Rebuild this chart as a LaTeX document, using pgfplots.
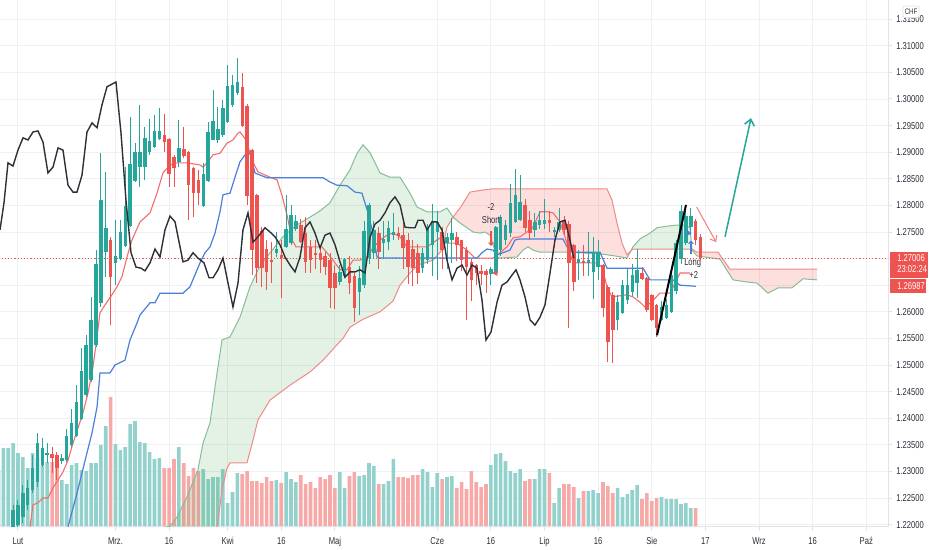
\documentclass[border=0pt]{standalone}
\usepackage{fontspec}
\setmainfont{Liberation Sans}[FakeStretch=0.76]
\usepackage{pgfplots}
\usepackage{pgfplotstable}
\pgfplotsset{compat=1.18}
\usetikzlibrary{arrows.meta}
\definecolor{up}{HTML}{26A69A}
\definecolor{dn}{HTML}{EF5350}
\definecolor{vup}{HTML}{93D2CC}
\definecolor{vdn}{HTML}{F7A9A7}
\definecolor{conv}{HTML}{F26D6D}
\definecolor{base}{HTML}{4A7FDB}
\definecolor{lag}{HTML}{2E3038}
\definecolor{spanA}{HTML}{84BE97}
\definecolor{spanB}{HTML}{F08A88}
\definecolor{cloudG}{HTML}{43A047}
\definecolor{cloudR}{HTML}{F44336}
\definecolor{gridc}{HTML}{EEF0F4}
\definecolor{linec}{HTML}{E0E3EB}
\definecolor{txt}{HTML}{2A2E39}
\newcommand{\tf}{\fontsize{5}{6}\selectfont}

% ---------- candles: i O H L C ----------
\pgfplotstableread{
i O H L C
-1 1.2196 1.2237 1.2194 1.2228
0 1.2200 1.2246 1.2196 1.2237
1 1.2214 1.2274 1.2203 1.2259
2 1.2236 1.2284 1.2228 1.2269
3 1.2265 1.2331 1.2259 1.2306
4 1.2280 1.2372 1.2271 1.2353
5 1.2312 1.2363 1.2308 1.2344
6 1.2331 1.2353 1.2316 1.2334
9 1.2320 1.2332 1.2314 1.2326
10 1.2321 1.2380 1.2318 1.2366
11 1.2350 1.2417 1.2346 1.2391
12 1.2366 1.2462 1.2365 1.2430
13 1.2398 1.2532 1.2397 1.2489
14 1.2444 1.2556 1.2440 1.2538
15 1.2472 1.2628 1.2468 1.2585
16 1.2538 1.2716 1.2534 1.2690
17 1.2617 1.2898 1.2609 1.2810
18 1.2712 1.2863 1.2666 1.2757
20 1.2692 1.2773 1.2650 1.2705
21 1.2699 1.2773 1.2697 1.2750
22 1.2724 1.2872 1.2722 1.2799
23 1.2761 1.2966 1.2759 1.2878
24 1.2846 1.2918 1.2844 1.2901
25 1.2872 1.2989 1.2835 1.2900
26 1.2872 1.2947 1.2847 1.2927
27 1.2901 1.2962 1.2895 1.2921
28 1.2910 1.2970 1.2908 1.2940
29 1.2925 1.2983 1.2923 1.2940
33 1.2882 1.2961 1.2872 1.2908
38 1.2799 1.2880 1.2797 1.2859
39 1.2846 1.2957 1.2844 1.2938
40 1.2923 1.3017 1.2923 1.2959
41 1.2923 1.2985 1.2917 1.2944
42 1.2932 1.2998 1.2929 1.2983
43 1.2957 1.3064 1.2955 1.3024
44 1.2989 1.3045 1.2985 1.3026
45 1.3011 1.3077 1.3008 1.3032
53 1.2711 1.2750 1.2703 1.2718
55 1.2722 1.2820 1.2720 1.2756
56 1.2729 1.2801 1.2726 1.2782
57 1.2756 1.2782 1.2752 1.2771
66 1.2656 1.2688 1.2650 1.2675
67 1.2667 1.2702 1.2664 1.2699
70 1.2637 1.2686 1.2594 1.2664
71 1.2650 1.2770 1.2644 1.2752
72 1.2702 1.2805 1.2690 1.2801
73 1.2711 1.2770 1.2700 1.2754
75 1.2729 1.2770 1.2700 1.2737
76 1.2731 1.2770 1.2716 1.2757
77 1.2744 1.2785 1.2735 1.2750
83 1.2683 1.2720 1.2672 1.2710
84 1.2698 1.2765 1.2690 1.2757
85 1.2726 1.2802 1.2668 1.2771
86 1.2750 1.2790 1.2660 1.2769
88 1.2729 1.2748 1.2680 1.2741
89 1.2735 1.2777 1.2692 1.2748
97 1.2671 1.2685 1.2650 1.2680
98 1.2673 1.2762 1.2670 1.2759
99 1.2716 1.2782 1.2705 1.2778
100 1.2735 1.2773 1.2725 1.2763
101 1.2748 1.2840 1.2740 1.2805
102 1.2769 1.2868 1.2767 1.2820
103 1.2773 1.2857 1.2770 1.2806
106 1.2754 1.2786 1.2740 1.2769
107 1.2763 1.2790 1.2755 1.2773
108 1.2765 1.2812 1.2755 1.2773
110 1.2750 1.2760 1.2740 1.2754
111 1.2754 1.2795 1.2750 1.2769
115 1.2692 1.2717 1.2660 1.2699
117 1.2692 1.2750 1.2667 1.2697
118 1.2675 1.2741 1.2624 1.2712
119 1.2684 1.2735 1.2660 1.2712
123 1.2584 1.2632 1.2565 1.2618
124 1.2598 1.2660 1.2596 1.2650
125 1.2622 1.2680 1.2615 1.2650
126 1.2637 1.2690 1.2630 1.2669
127 1.2654 1.2718 1.2626 1.2679
132 1.2585 1.2620 1.2583 1.2609
133 1.2588 1.2625 1.2587 1.2613
134 1.2600 1.2680 1.2598 1.2669
135 1.2640 1.2735 1.2633 1.2730
136 1.2700 1.2800 1.2690 1.2790
137 1.2730 1.2790 1.2725 1.2780
138 1.2760 1.2795 1.2745 1.2780
}\upc

\pgfplotstableread{
i O H L C
7 1.2333 1.2346 1.2297 1.2325
8 1.2330 1.2336 1.2284 1.2306
19 1.2735 1.2740 1.2575 1.2666
30 1.2933 1.2972 1.2901 1.2920
31 1.2925 1.2927 1.2835 1.2859
32 1.2891 1.2895 1.2835 1.2870
34 1.2906 1.2947 1.2889 1.2893
35 1.2901 1.2903 1.2773 1.2838
36 1.2870 1.2872 1.2778 1.2823
37 1.2848 1.2866 1.2800 1.2823
46 1.3023 1.3049 1.2947 1.2949
47 1.2987 1.2990 1.2800 1.2818
48 1.2904 1.2906 1.2670 1.2716
49 1.2820 1.2822 1.2655 1.2682
50 1.2752 1.2759 1.2647 1.2682
51 1.2718 1.2735 1.2641 1.2675
52 1.2698 1.2731 1.2654 1.2694
54 1.2707 1.2735 1.2626 1.2701
58 1.2763 1.2775 1.2729 1.2731
59 1.2748 1.2778 1.2673 1.2694
60 1.2722 1.2735 1.2673 1.2698
61 1.2710 1.2735 1.2680 1.2707
62 1.2710 1.2722 1.2673 1.2698
63 1.2705 1.2712 1.2669 1.2684
64 1.2698 1.2711 1.2607 1.2645
65 1.2673 1.2688 1.2605 1.2645
68 1.2684 1.2705 1.2633 1.2654
69 1.2667 1.2673 1.2581 1.2607
74 1.2748 1.2760 1.2680 1.2712
78 1.2748 1.2760 1.2735 1.2743
79 1.2744 1.2774 1.2680 1.2720
80 1.2735 1.2749 1.2652 1.2684
81 1.2718 1.2735 1.2648 1.2683
82 1.2710 1.2728 1.2652 1.2673
87 1.2750 1.2760 1.2680 1.2716
90 1.2741 1.2750 1.2695 1.2726
91 1.2735 1.2735 1.2677 1.2698
92 1.2716 1.2722 1.2585 1.2684
93 1.2694 1.2700 1.2620 1.2660
94 1.2688 1.2690 1.2650 1.2673
95 1.2677 1.2688 1.2650 1.2671
96 1.2677 1.2680 1.2635 1.2669
104 1.2801 1.2812 1.2750 1.2758
105 1.2773 1.2790 1.2735 1.2748
109 1.2773 1.2790 1.2750 1.2766
112 1.2773 1.2780 1.2745 1.2754
113 1.2765 1.2770 1.2570 1.2692
114 1.2726 1.2728 1.2640 1.2656
116 1.2696 1.2725 1.2667 1.2692
120 1.2688 1.2690 1.2590 1.2607
121 1.2647 1.2650 1.2506 1.2543
122 1.2632 1.2637 1.2503 1.2566
128 1.2673 1.2685 1.2660 1.2662
129 1.2664 1.2666 1.2600 1.2604
130 1.2632 1.2634 1.2583 1.2585
131 1.2613 1.2615 1.2553 1.2570
139 1.2770 1.2775 1.2725 1.2735
140 1.2741 1.2746 1.2697 1.27006
}\dnc

% ---------- volume ----------
\pgfplotstableread{
i v
-4 57
-3 79
-2 79
-1 84
0 74
1 70
2 59
3 74
4 69
5 62
6 65
9 47
10 43
11 62
12 64
13 57
14 56
15 64
16 64
17 82
18 101
20 83
21 77
22 80
23 103
24 106
25 85
26 84
27 75
28 68
29 69
33 80
38 58
39 48
40 50
41 50
42 58
43 24
44 35
45 54
53 47
55 55
56 48
57 45
66 55
67 39
70 51
71 52
72 64
73 61
75 43
76 46
77 68
83 58
84 55
85 40
86 54
88 50
89 51
97 62
98 73
99 74
100 66
101 56
102 54
103 58
106 48
107 58
108 58
110 24
111 39
115 29
117 36
118 37
119 34
123 39
124 30
125 33
126 37
127 42
132 30
133 28
134 28
135 28
136 23
137 24
138 19
}\vupt

\pgfplotstableread{
i v
7 65
8 67
19 130
30 59
31 59
32 68
34 64
35 51
36 59
37 56
46 53
47 56
48 46
49 46
50 44
51 50
52 46
54 44
58 52
59 43
60 45
61 39
62 50
63 48
64 52
65 39
68 51
69 55
74 43
78 50
79 50
80 49
81 52
82 52
87 48
90 39
91 45
92 38
93 56
94 45
95 40
96 43
104 46
105 48
109 54
112 43
113 43
114 40
116 36
120 45
121 41
122 34
128 28
129 34
130 26
131 29
139 19
140 1
}\vdnt

% ---------- ichimoku ----------
\pgfplotstableread{
x y
2.46 1.2196
3.08 1.2237
4.10 1.2241
5.13 1.2250
6.15 1.2250
7.18 1.2269
8.21 1.2284
9.23 1.2299
10.26 1.2321
11.28 1.2353
12.31 1.2382
13.33 1.2410
14.36 1.2447
15.38 1.2496
16.21 1.2553
16.82 1.2598
17.85 1.2613
19.28 1.2632
20.31 1.2647
21.33 1.2666
22.36 1.2703
23.38 1.2735
25.03 1.2769
27.08 1.2786
28.51 1.2823
29.74 1.2861
31.18 1.2876
32.62 1.2880
34.67 1.2880
37.33 1.2876
37.95 1.2872
38.97 1.2882
40.00 1.2895
41.44 1.2898
42.87 1.2917
44.10 1.2923
45.13 1.2936
45.54 1.2938
46.77 1.2923
48.00 1.2885
49.23 1.2863
51.69 1.2853
53.13 1.2848
54.15 1.2819
55.18 1.2782
56.21 1.2735
57.03 1.2722
62.36 1.2722
63.38 1.2711
64.62 1.2697
66.05 1.2679
67.49 1.2679
68.72 1.2697
70.15 1.2697
71.59 1.2703
72.82 1.2720
74.26 1.2735
75.69 1.2744
76.92 1.2748
78.36 1.2741
79.79 1.2722
83.90 1.2722
85.95 1.2735
86.97 1.2741
87.59 1.2729
90.05 1.2729
92.10 1.2716
93.74 1.2701
97.44 1.2701
98.87 1.2711
100.31 1.2722
101.54 1.2739
102.97 1.2741
104.41 1.2750
105.64 1.2759
107.08 1.2788
108.51 1.2788
109.74 1.2786
111.18 1.2769
112.62 1.2729
113.85 1.2692
118.77 1.2692
119.79 1.2684
120.82 1.2647
121.85 1.2628
124.92 1.2632
126.15 1.2628
127.59 1.2618
128.62 1.2609
129.64 1.2616
131.69 1.2635
133.74 1.2635
134.77 1.2654
135.80 1.2673
137.85 1.2673
}\conv

\pgfplotstableread{
x y
10.26 1.2196
12.10 1.2259
14.15 1.2335
15.18 1.2372
16.21 1.2421
16.82 1.2485
18.87 1.2485
19.90 1.2500
21.95 1.2509
22.97 1.2547
24.41 1.2579
25.03 1.2594
27.08 1.2617
28.10 1.2617
29.13 1.2635
33.85 1.2635
35.28 1.2647
37.33 1.2692
38.36 1.2711
39.38 1.2722
40.41 1.2748
41.44 1.2788
42.05 1.2820
43.49 1.2823
44.51 1.2853
45.54 1.2882
46.56 1.2895
47.59 1.2898
48.62 1.2861
49.64 1.2857
51.08 1.2852
62.57 1.2852
64.00 1.2844
65.44 1.2838
67.49 1.2837
69.13 1.2825
70.56 1.2823
71.79 1.2786
72.82 1.2748
73.64 1.2703
74.26 1.2701
94.15 1.2701
95.18 1.2711
96.21 1.2718
97.44 1.2716
98.26 1.2707
100.92 1.2716
101.95 1.2735
102.97 1.2737
111.79 1.2737
112.62 1.2722
113.85 1.2712
119.38 1.2712
120.82 1.2682
128.21 1.2682
129.64 1.2660
134.36 1.2660
135.80 1.2650
139.08 1.2648
}\base

\pgfplotstableread{
x y
-3.69 1.2754
-2.87 1.2805
-2.05 1.2880
-1.03 1.2874
0.00 1.2904
1.03 1.2927
2.05 1.2923
3.08 1.2938
4.10 1.2940
5.13 1.2919
6.15 1.2861
7.18 1.2872
8.21 1.2908
9.23 1.2904
10.26 1.2838
11.28 1.2825
12.10 1.2825
13.13 1.2857
14.15 1.2938
15.18 1.2955
16.21 1.2946
17.23 1.2989
18.26 1.3023
20.10 1.3032
21.13 1.2936
22.15 1.2810
23.18 1.2711
24.21 1.2684
25.23 1.2682
26.05 1.2677
27.08 1.2692
28.10 1.2718
29.13 1.2703
30.15 1.2754
31.18 1.2780
32.21 1.2769
33.85 1.2694
34.87 1.2697
35.90 1.2711
36.92 1.2701
38.15 1.2692
39.18 1.2664
40.00 1.2664
41.03 1.2679
42.05 1.2701
43.08 1.2654
44.10 1.2609
45.13 1.2654
46.15 1.2754
47.18 1.2786
48.21 1.2731
49.23 1.2741
50.67 1.2758
51.69 1.2750
52.72 1.2741
53.74 1.2726
54.77 1.2703
55.79 1.2688
56.82 1.2675
57.85 1.2703
58.87 1.2758
59.90 1.2769
60.92 1.2748
61.95 1.2720
62.97 1.2744
64.00 1.2748
65.03 1.2726
66.05 1.2694
67.08 1.2665
68.10 1.2675
69.13 1.2675
70.15 1.2679
71.18 1.2673
72.21 1.2740
73.23 1.2765
74.26 1.2772
75.28 1.2786
76.31 1.2805
77.33 1.2816
78.36 1.2801
79.38 1.2759
80.41 1.2758
81.44 1.2758
82.05 1.2772
83.08 1.2772
83.90 1.2754
84.92 1.2769
85.95 1.2769
86.97 1.2754
88.00 1.2697
89.03 1.2660
90.05 1.2682
91.08 1.2688
92.10 1.2669
93.13 1.2688
94.15 1.2682
95.18 1.2622
96.00 1.2547
97.03 1.2562
98.26 1.2618
99.28 1.2650
100.31 1.2656
101.33 1.2669
102.15 1.2679
102.97 1.2660
104.00 1.2628
105.03 1.2585
106.05 1.2575
107.08 1.2590
108.10 1.2613
109.13 1.2673
110.15 1.2735
111.18 1.2769
112.21 1.2772
113.23 1.2735
114.00 1.2701
}\lag

\pgfplotstableread{
x y
29.54 1.2194
31.18 1.2197
32.62 1.2214
34.67 1.2252
35.90 1.2280
36.92 1.2303
37.95 1.2353
39.38 1.2391
40.62 1.2472
41.85 1.2547
43.49 1.2553
45.54 1.2590
47.59 1.2647
49.30 1.2680
51.00 1.2703
54.36 1.2741
57.00 1.2762
59.90 1.2778
62.00 1.2790
64.00 1.2805
66.05 1.2838
68.10 1.2867
69.50 1.2897
70.77 1.2914
72.21 1.2899
74.26 1.2861
76.31 1.2853
78.36 1.2853
80.41 1.2823
81.85 1.2797
83.90 1.2788
86.56 1.2788
88.00 1.2795
89.23 1.2778
90.67 1.2767
92.10 1.2758
93.33 1.2750
94.77 1.2748
95.79 1.2750
96.82 1.2744
98.26 1.2703
98.87 1.2701
102.36 1.2703
103.59 1.2716
104.62 1.2722
105.64 1.2716
107.08 1.2712
112.62 1.2712
119.38 1.2709
122.46 1.2705
124.92 1.2701
126.15 1.2722
127.59 1.2737
129.64 1.2748
131.08 1.2758
133.13 1.2761
135.18 1.2763
136.82 1.2763
137.85 1.2758
138.26 1.2716
139.28 1.2705
144.00 1.2699
146.67 1.2660
149.54 1.2656
151.59 1.2654
153.85 1.2635
155.90 1.2645
158.77 1.2645
161.03 1.2662
163.90 1.2660
}\spanA

\pgfplotstableread{
x y
29.54 1.2100
40.00 1.2150
40.82 1.2194
41.85 1.2265
42.87 1.2306
43.49 1.2316
46.97 1.2316
48.21 1.2359
49.23 1.2397
51.69 1.2434
55.79 1.2462
59.90 1.2487
62.57 1.2509
65.03 1.2534
66.67 1.2550
68.10 1.2571
70.77 1.2586
74.26 1.2600
76.92 1.2620
78.36 1.2650
80.41 1.2673
82.05 1.2688
85.13 1.2697
86.97 1.2716
88.00 1.2759
89.23 1.2778
90.67 1.2795
92.72 1.2825
95.38 1.2829
97.23 1.2831
120.82 1.2831
121.85 1.2810
122.87 1.2767
123.90 1.2729
124.92 1.2707
126.15 1.2718
138.26 1.2718
139.28 1.2712
143.59 1.2712
146.05 1.2680
163.90 1.2680
}\spanB

% cloud areas: span A forward, span B back
\pgfplotstableread{
x y
29.54 1.2194
31.18 1.2197
32.62 1.2214
34.67 1.2252
35.90 1.2280
36.92 1.2303
37.95 1.2353
39.38 1.2391
40.62 1.2472
41.85 1.2547
43.49 1.2553
45.54 1.2590
47.59 1.2647
49.30 1.2680
51.00 1.2703
54.36 1.2741
57.00 1.2762
59.90 1.2778
62.00 1.2790
64.00 1.2805
66.05 1.2838
68.10 1.2867
69.50 1.2897
70.77 1.2914
72.21 1.2899
74.26 1.2861
76.31 1.2853
78.36 1.2853
80.41 1.2823
81.85 1.2797
83.90 1.2788
86.56 1.2788
88.00 1.2795
89.23 1.2778
88.00 1.2759
86.97 1.2716
85.13 1.2697
82.05 1.2688
80.41 1.2673
78.36 1.2650
76.92 1.2620
74.26 1.2600
70.77 1.2586
68.10 1.2571
66.67 1.2550
65.03 1.2534
62.57 1.2509
59.90 1.2487
55.79 1.2462
51.69 1.2434
49.23 1.2397
48.21 1.2359
46.97 1.2316
43.49 1.2316
42.87 1.2306
41.85 1.2265
40.82 1.2194
40.00 1.2150
29.54 1.2100
}\cloudGa

\pgfplotstableread{
x y
125.50 1.2712
126.15 1.2722
127.59 1.2737
129.64 1.2748
131.08 1.2758
133.13 1.2761
135.18 1.2763
136.82 1.2763
137.85 1.2758
138.25 1.2717
126.15 1.2718
}\cloudGb

\pgfplotstableread{
x y
89.23 1.2778
90.67 1.2767
92.10 1.2758
93.33 1.2750
94.77 1.2748
95.79 1.2750
96.82 1.2744
98.26 1.2703
98.87 1.2701
102.36 1.2703
103.59 1.2716
104.62 1.2722
105.64 1.2716
107.08 1.2712
112.62 1.2712
119.38 1.2709
122.46 1.2705
124.92 1.2701
125.50 1.2712
124.92 1.2707
123.90 1.2729
122.87 1.2767
121.85 1.2810
120.82 1.2831
97.23 1.2831
95.38 1.2829
92.72 1.2825
90.67 1.2795
}\cloudRa

\pgfplotstableread{
x y
138.25 1.2717
139.28 1.2705
144.00 1.2699
146.67 1.2660
149.54 1.2656
151.59 1.2654
153.85 1.2635
155.90 1.2645
158.77 1.2645
161.03 1.2662
163.90 1.2660
163.90 1.2680
146.05 1.2680
143.59 1.2712
139.28 1.2712
}\cloudRb

\begin{document}
\begin{tikzpicture}
\fill[white] (0,0) rectangle (466pt,-275pt);

% background grid
\begin{axis}[at={(0,0)}, anchor=north west, width=444pt, height=263.5pt, scale only axis,
  xmin=-3.692, xmax=178.46, ymin=1.21955, ymax=1.31861,
  xtick={0,20,31,43,54,65,86,97,108,119,130,141,152,163,174},
  ytick={1.22,1.225,1.23,1.235,1.24,1.245,1.25,1.255,1.26,1.265,1.27,1.275,1.28,1.285,1.29,1.295,1.30,1.305,1.31,1.315},
  xticklabels={}, yticklabels={}, grid=major,
  major grid style={draw=gridc, line width=0.5pt},
  axis line style={draw=none}, tick style={draw=none}]
\addplot[draw=none] coordinates {(0,1.25) (1,1.26)};
\end{axis}

% volume
\begin{axis}[at={(0,0)}, anchor=north west, width=444pt, height=263.5pt, scale only axis,
  xmin=-3.692, xmax=178.46, ymin=0, ymax=527, hide axis]
\addplot[ybar, bar shift=0pt, bar width=1.8pt, fill=vup, draw=none] table[x=i,y=v] {\vupt};
\addplot[ybar, bar shift=0pt, bar width=1.8pt, fill=vdn, draw=none] table[x=i,y=v] {\vdnt};
\end{axis}

% price
\begin{axis}[at={(0,0)}, anchor=north west, width=444pt, height=263.5pt, scale only axis,
  xmin=-3.692, xmax=178.46, ymin=1.21955, ymax=1.31861,
  axis x line*=bottom, axis y line*=right,
  axis line style={draw=linec, line width=0.5pt, -},
  xtick={0,20,31,43,54,65,86,97,108,119,130,141,152,163,174},
  xticklabels={Lut,Mrz.,16,Kwi,16,Maj,Cze,16,Lip,16,Sie,17,Wrz,16,Paź},
  ytick={1.22,1.225,1.23,1.235,1.24,1.245,1.25,1.255,1.26,1.265,1.27,1.275,1.28,1.285,1.29,1.295,1.30,1.305,1.31,1.315},
  yticklabels={1.22000,1.22500,1.23000,1.23500,1.24000,1.24500,1.25000,1.25500,1.26000,{},{},1.27500,1.28000,1.28500,1.29000,1.29500,1.30000,1.30500,1.31000,1.31500},
  tick align=outside, major tick length=2pt,
  tick style={draw=linec, line width=0.5pt},
  x tick label style={font=\tf, text=txt, inner sep=0pt, anchor=north, yshift=-3pt},
  y tick label style={font=\tf, text=txt, inner sep=0pt, anchor=west, xshift=2pt},
  /pgf/number format/assume math mode=true,
  clip mode=individual]

% cloud
\addplot[fill=cloudG, fill opacity=0.14, draw=none] table[x=x,y=y] {\cloudGa};
\addplot[fill=cloudG, fill opacity=0.14, draw=none] table[x=x,y=y] {\cloudGb};
\addplot[fill=cloudR, fill opacity=0.17, draw=none] table[x=x,y=y] {\cloudRa};
\addplot[fill=cloudR, fill opacity=0.17, draw=none] table[x=x,y=y] {\cloudRb};
\addplot[spanA, line width=0.5pt] table[x=x,y=y] {\spanA};
\addplot[spanB, line width=0.5pt] table[x=x,y=y] {\spanB};

% price line
\addplot[dn, line width=0.5pt, dash pattern=on 0.6pt off 1pt] coordinates {(-4,1.27006) (179,1.27006)};

% conversion & base lines
\addplot[conv, line width=0.55pt] table[x=x,y=y] {\conv};
\addplot[base, line width=0.6pt] table[x=x,y=y] {\base};

% candles: wicks and bodies
\addplot[draw=none, mark=none, forget plot, error bars/.cd, y dir=plus, y explicit, error mark=none,
  error bar style={draw=up, line width=0.5pt}] table[x=i, y=L, y error expr=\thisrow{H}-\thisrow{L}] {\upc};
\addplot[draw=none, mark=none, forget plot, error bars/.cd, y dir=plus, y explicit, error mark=none,
  error bar style={draw=dn, line width=0.5pt}] table[x=i, y=L, y error expr=\thisrow{H}-\thisrow{L}] {\dnc};
\addplot[draw=none, mark=none, forget plot, error bars/.cd, y dir=plus, y explicit, error mark=none,
  error bar style={draw=up, line width=1.75pt}] table[x=i, y=O, y error expr=\thisrow{C}-\thisrow{O}] {\upc};
\addplot[draw=none, mark=none, forget plot, error bars/.cd, y dir=plus, y explicit, error mark=none,
  error bar style={draw=dn, line width=1.75pt}] table[x=i, y=C, y error expr=\thisrow{O}-\thisrow{C}] {\dnc};

% lagging span
\addplot[lag, line width=0.7pt] table[x=x,y=y] {\lag};

% drawings
\addplot[black, line width=1pt] coordinates {(131.08,1.2556) (137.03,1.2801)};
\addplot[dn!75, line width=0.5pt, -{Straight Barb[length=2.5pt,width=4pt]}] coordinates {(139.2,1.2797) (143.2,1.2731)};
\addplot[up, line width=0.75pt, -{Straight Barb[length=3pt,width=5pt]}] coordinates {(145.03,1.2741) (150.36,1.2964)};

% short / long markers
\addplot[dn, line width=0.8pt, -{Triangle[length=1.6pt,width=3pt]}] coordinates {(97.03,1.2752) (97.03,1.2724)};
\addplot[only marks, mark=triangle*, mark size=1.3pt, mark options={rotate=90, fill=dn, draw=dn}] coordinates {(98.0,1.2673)};
\addplot[base, line width=0.8pt, -{Triangle[length=1.6pt,width=3pt]}] coordinates {(138.05,1.2709) (138.05,1.2734)};
\addplot[only marks, mark=triangle*, mark size=1.3pt, mark options={rotate=-90, fill=base, draw=base}] coordinates {(137.5,1.2748)};
\node[font=\tf, text=txt, inner sep=0pt] at (axis cs:97.03,1.2797) {-2};
\node[font=\tf, text=txt, inner sep=0pt] at (axis cs:97.03,1.2773) {Short};
\node[font=\tf, text=txt, inner sep=0pt] at (axis cs:138.4,1.2692) {Long};
\node[font=\tf, text=txt, inner sep=0pt] at (axis cs:138.6,1.2669) {+2};
\end{axis}

% right scale labels
\fill[dn] (445pt,-126pt) rectangle (464pt,-139pt);
\fill[dn] (445pt,-139.6pt) rectangle (463pt,-146.5pt);
\node[font=\tf, text=white, inner sep=0pt, anchor=west] at (448.5pt,-129.2pt) {1.27006};
\node[font=\tf, text=white, inner sep=0pt, anchor=west] at (448.5pt,-134.6pt) {23:02:24};
\node[font=\tf, text=white, inner sep=0pt, anchor=west] at (448.5pt,-143pt) {1.26987};
\draw[linec, fill=white, rounded corners=1pt] (451.5pt,-3pt) rectangle (459.5pt,-8.8pt);
\node[font=\fontsize{4}{5}\selectfont, text=txt, inner sep=0pt] at (455.5pt,-5.9pt) {CHF};
\pgfresetboundingbox
\useasboundingbox (0,0) rectangle (466pt,-275pt);
\end{tikzpicture}
\end{document}
